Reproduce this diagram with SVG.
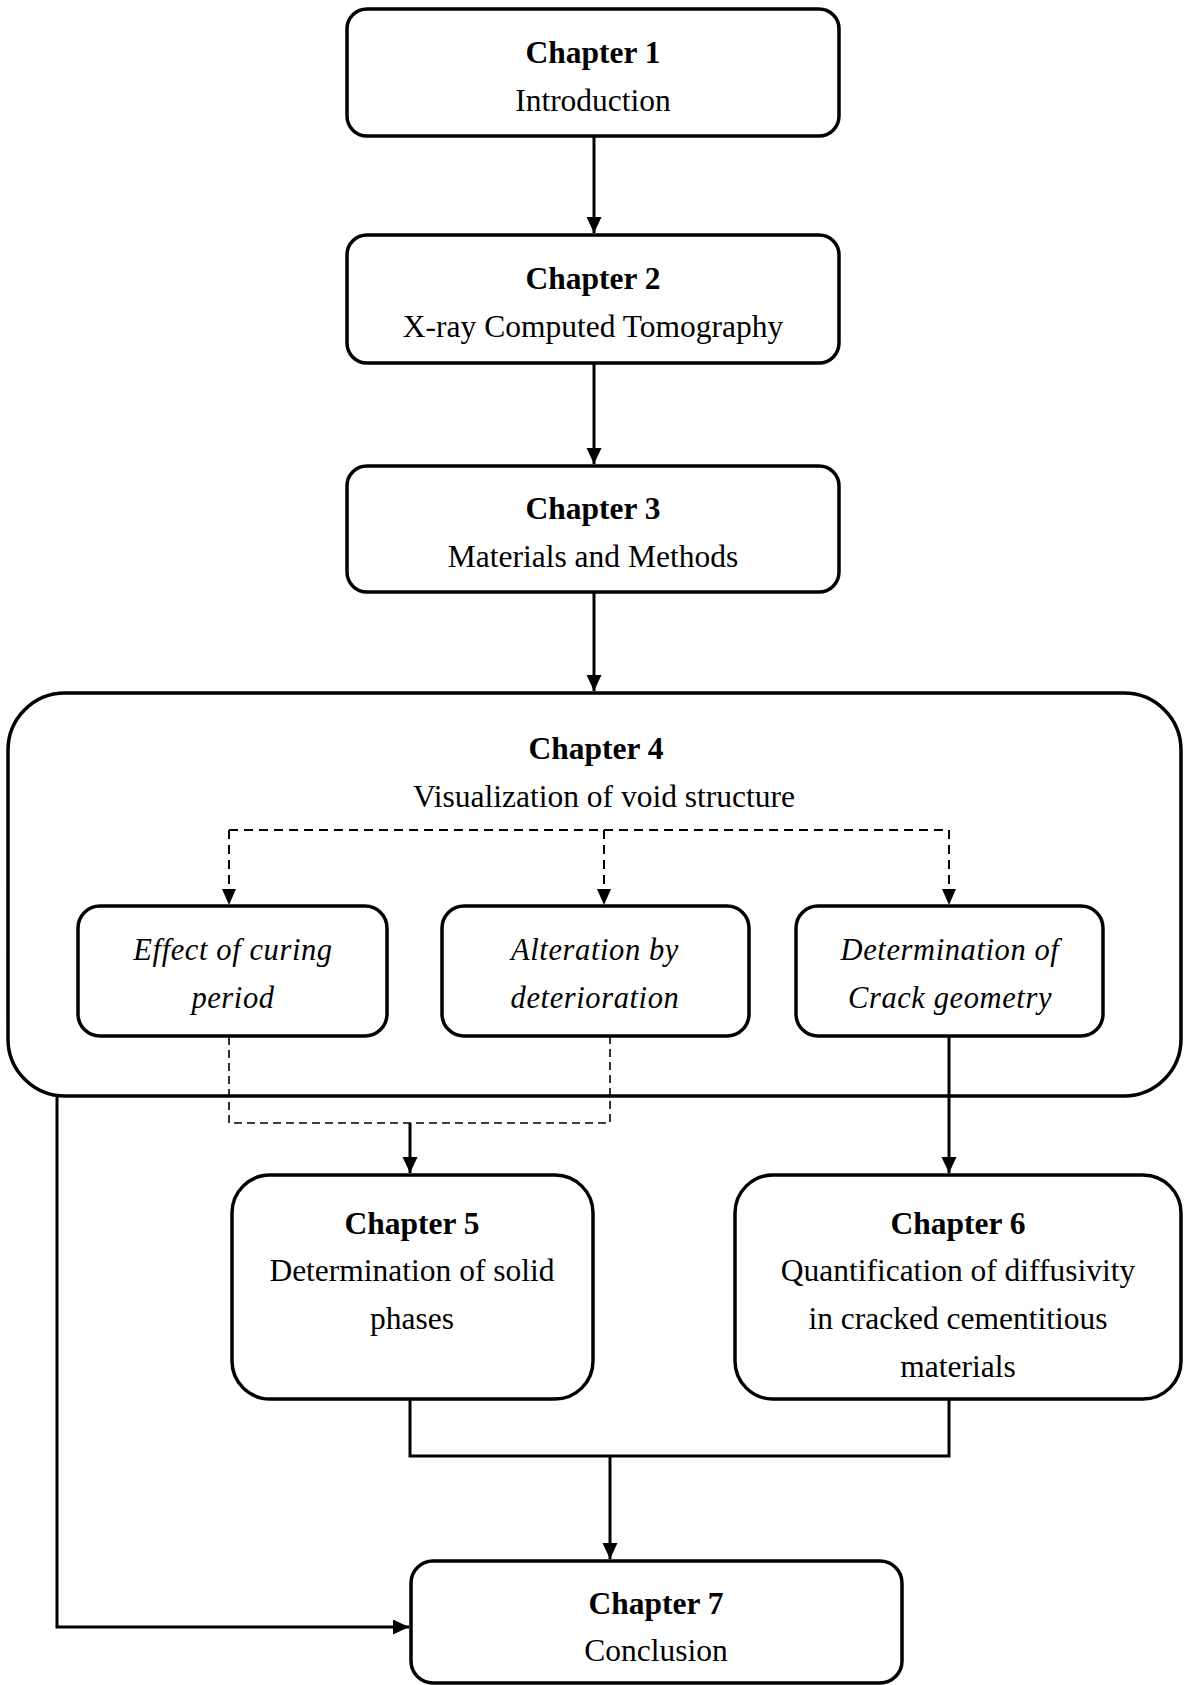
<svg xmlns="http://www.w3.org/2000/svg" width="1184" height="1685" viewBox="0 0 1184 1685">
  <style>
    .box { fill: #ffffff; stroke: #000000; stroke-width: 3.5; }
    .t { font-family: "Liberation Serif", "Times New Roman", serif; font-size: 31.5px; fill: #000000; text-anchor: middle; }
    .b { font-weight: bold; }
    .i { font-style: italic; font-size: 30.5px; letter-spacing: 0.6px; }
    .line { fill: none; stroke: #000000; stroke-width: 3; }
    .dash { fill: none; stroke: #000000; stroke-width: 2; stroke-dasharray: 9 6; }
    .dash-thin { fill: none; stroke: #000000; stroke-width: 1.6; stroke-dasharray: 8 5; }
  </style>
  <defs>
    <marker id="arrow" markerUnits="userSpaceOnUse" markerWidth="16" markerHeight="16" refX="16" refY="7.5" orient="auto">
      <path d="M0,0 L16,7.5 L0,15 z" fill="#000000"/>
    </marker>
    <marker id="arrow-d" markerUnits="userSpaceOnUse" markerWidth="16" markerHeight="16" refX="16" refY="7" orient="auto">
      <path d="M0,0 L16,7 L0,14 z" fill="#000000"/>
    </marker>
  </defs>

  <rect width="1184" height="1685" fill="#ffffff"/>

  <!-- Chapter 4 container (drawn first so inner nodes sit on top) -->
  <g id="chapter4">
    <rect class="box" x="8" y="693" width="1173" height="403" rx="57" ry="57"/>
    <text class="t b" x="596" y="759">Chapter 4</text>
    <text class="t" x="604" y="807">Visualization of void structure</text>
  </g>

  <g id="connectors">
    <!-- main chain -->
    <line class="line" x1="594" y1="137" x2="594" y2="233" marker-end="url(#arrow)"/>
    <line class="line" x1="594" y1="364" x2="594" y2="464" marker-end="url(#arrow)"/>
    <line class="line" x1="594" y1="593" x2="594" y2="691" marker-end="url(#arrow)"/>
    <!-- Chapter 4 fan-out -->
    <path class="dash" d="M229,830 H949"/>
    <line class="dash" x1="229" y1="830" x2="229" y2="905" marker-end="url(#arrow-d)"/>
    <line class="dash" x1="604" y1="830" x2="604" y2="905" marker-end="url(#arrow-d)"/>
    <line class="dash" x1="949" y1="830" x2="949" y2="905" marker-end="url(#arrow-d)"/>
    <!-- curing + deterioration into Chapter 5 -->
    <path class="dash-thin" d="M229,1037 V1123 H610 V1037"/>
    <line class="line" x1="410" y1="1123" x2="410" y2="1173" marker-end="url(#arrow)"/>
    <!-- crack geometry into Chapter 6 -->
    <line class="line" x1="949" y1="1037" x2="949" y2="1173" marker-end="url(#arrow)"/>
    <!-- Chapters 5 and 6 into Chapter 7 -->
    <path class="line" d="M410,1400 V1456 H949 V1400"/>
    <line class="line" x1="610" y1="1456" x2="610" y2="1559" marker-end="url(#arrow)"/>
    <!-- Chapter 4 directly to Chapter 7 -->
    <path class="line" d="M57,1097 V1627 H409" marker-end="url(#arrow)"/>
  </g>

  <g id="chapter1">
    <rect class="box" x="347" y="9" width="492" height="127" rx="20" ry="20"/>
    <text class="t b" x="593" y="63">Chapter 1</text>
    <text class="t" x="593" y="111">Introduction</text>
  </g>

  <g id="chapter2">
    <rect class="box" x="347" y="235" width="492" height="128" rx="20" ry="20"/>
    <text class="t b" x="593" y="289">Chapter 2</text>
    <text class="t" x="593" y="337">X-ray Computed Tomography</text>
  </g>

  <g id="chapter3">
    <rect class="box" x="347" y="466" width="492" height="126" rx="20" ry="20"/>
    <text class="t b" x="593" y="519">Chapter 3</text>
    <text class="t" x="593" y="567">Materials and Methods</text>
  </g>

  <g id="curing">
    <rect class="box" x="78" y="906" width="309" height="130" rx="22" ry="22"/>
    <text class="t i" x="233" y="960">Effect of curing</text>
    <text class="t i" x="233" y="1008">period</text>
  </g>

  <g id="deterioration">
    <rect class="box" x="442" y="906" width="307" height="130" rx="22" ry="22"/>
    <text class="t i" x="595" y="960">Alteration by</text>
    <text class="t i" x="595" y="1008">deterioration</text>
  </g>

  <g id="crack">
    <rect class="box" x="796" y="906" width="307" height="130" rx="22" ry="22"/>
    <text class="t i" x="950" y="960">Determination of</text>
    <text class="t i" x="950" y="1008">Crack geometry</text>
  </g>

  <g id="chapter5">
    <rect class="box" x="232" y="1175" width="361" height="224" rx="38" ry="38"/>
    <text class="t b" x="412" y="1234">Chapter 5</text>
    <text class="t" x="412" y="1281">Determination of solid</text>
    <text class="t" x="412" y="1329">phases</text>
  </g>

  <g id="chapter6">
    <rect class="box" x="735" y="1175" width="446" height="224" rx="38" ry="38"/>
    <text class="t b" x="958" y="1234">Chapter 6</text>
    <text class="t" x="958" y="1281">Quantification of diffusivity</text>
    <text class="t" x="958" y="1329">in cracked cementitious</text>
    <text class="t" x="958" y="1377">materials</text>
  </g>

  <g id="chapter7">
    <rect class="box" x="411" y="1561" width="491" height="122" rx="22" ry="22"/>
    <text class="t b" x="656" y="1614">Chapter 7</text>
    <text class="t" x="656" y="1661">Conclusion</text>
  </g>
</svg>
